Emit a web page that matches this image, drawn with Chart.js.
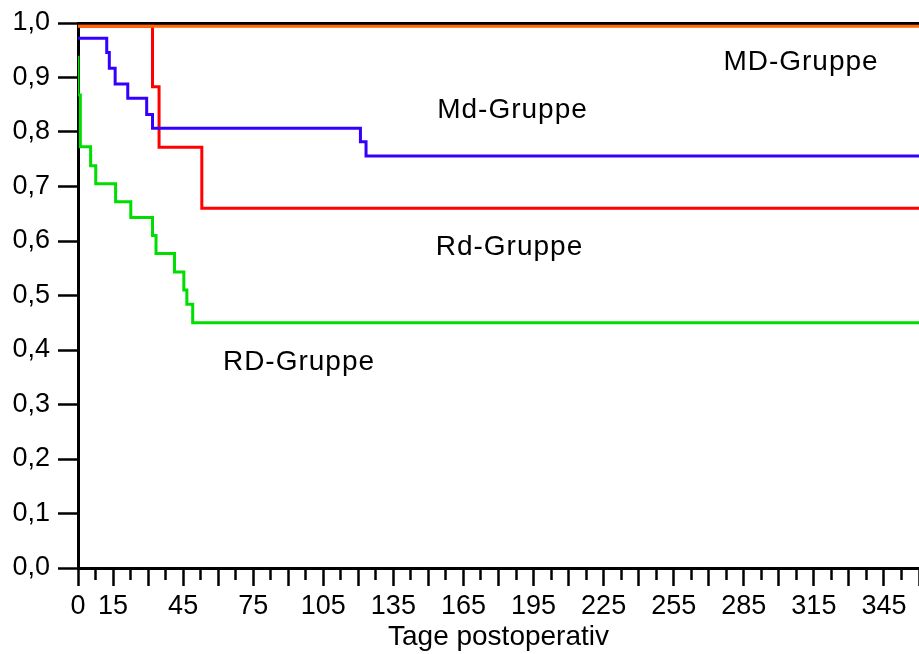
<!DOCTYPE html>
<html>
<head>
<meta charset="utf-8">
<script src="https://cdn.jsdelivr.net/npm/chart.js@4/dist/chart.umd.min.js"></script>
<style>
  html, body { margin: 0; padding: 0; background: #fff; }
  #wrap { width: 919px; height: 654px; position: relative; }
</style>
</head>
<body>
<div id="wrap"><canvas id="km"></canvas></div>
<script>
// Kaplan-Meier step curves: days after surgery and survival fraction per group
const mdDays   = [0, 360];
const mdSurv   = [0.994, 0.994];

const mdSmallDays = [0, 12.3, 13.4, 15.9, 21.3, 29.4, 31.9, 120.9, 123.3, 360];
const mdSmallSurv = [0.972, 0.946, 0.917, 0.888, 0.862, 0.832, 0.807, 0.782, 0.756, 0.756];

const rdSmallDays = [0, 31.9, 34.7, 53.0, 360];
const rdSmallSurv = [0.994, 0.883, 0.772, 0.660, 0.660];

const rdDays   = [0, 0, 1.0, 5.4, 7.6, 16.1, 22.6, 31.9, 33.4, 41.3, 45.3, 46.6, 49.1, 360];
const rdSurv   = [0.94, 0.868, 0.773, 0.738, 0.705, 0.672, 0.643, 0.610, 0.577, 0.543, 0.510, 0.484, 0.450, 0.450];

// Group names and where they sit (day, survival)
const groupNames = ['MD-Gruppe', 'Md-Gruppe', 'Rd-Gruppe', 'RD-Gruppe'];
const groupLabelDays = [309.5, 186, 184.7, 94.6];
const groupLabelSurv = [0.928, 0.840, 0.589, 0.378];

const xMax = 360;
const xStep = 7.5;
const yTickStep = 0.1;
const xAxisTitle = 'Tage postoperativ';

const FONT = "'Liberation Sans', Arial, sans-serif";

function pts(xs, ys) { return xs.map((x, i) => ({ x: x, y: ys[i] })); }

function isLabelled(v) { return v === 0 || (v % 30 === 15); }

const groupLabelPlugin = {
  id: 'groupLabels',
  afterDatasetsDraw(chart) {
    const { ctx, scales } = chart;
    ctx.save();
    ctx.font = '28px ' + FONT;
    ctx.letterSpacing = '1px';
    ctx.fillStyle = '#000';
    ctx.textAlign = 'center';
    ctx.textBaseline = 'middle';
    groupNames.forEach((name, i) => {
      const px = scales.x.getPixelForValue(groupLabelDays[i]);
      const py = scales.y.getPixelForValue(groupLabelSurv[i]);
      ctx.fillText(name, px, py);
    });
    ctx.restore();
  }
};

const line = (data, color) => ({
  data: data,
  borderColor: color,
  borderWidth: 3,
  pointRadius: 0,
  stepped: true,
  fill: false,
  tension: 0
});

new Chart(document.getElementById('km'), {
  type: 'line',
  data: {
    datasets: [
      line(pts(mdDays, mdSurv), '#ff6a00'),
      line(pts(mdSmallDays, mdSmallSurv), '#3300ff'),
      line(pts(rdSmallDays, rdSmallSurv), '#ff0000'),
      line(pts(rdDays, rdSurv), '#00dd00')
    ]
  },
  options: {
    responsive: true,
    maintainAspectRatio: false,
    animation: false,
    layout: { padding: 0 },
    plugins: { legend: { display: false }, tooltip: { enabled: false } },
    scales: {
      x: {
        type: 'linear',
        position: 'bottom',
        min: 0,
        max: xMax,
        afterBuildTicks(scale) {
          const t = [];
          for (let v = 0; v <= xMax + 1e-9; v += xStep) t.push({ value: v });
          scale.ticks = t;
        },
        afterFit(scale) { scale.height = 86; scale.paddingRight = 0; },
        border: { display: true, color: '#000', width: 3 },
        grid: {
          drawOnChartArea: false,
          drawTicks: true,
          tickLength: 18,
          tickColor: '#000',
          tickWidth: 2.5,
          tickBorderDash: (c) => (c.tick && (c.tick.value % 15 !== 0)) ? [10, 40] : []
        },
        ticks: {
          autoSkip: false,
          maxRotation: 0,
          padding: 4,
          color: '#000',
          font: { family: FONT, size: 27 },
          callback: (v) => isLabelled(v) ? String(v) : ''
        },
        title: {
          display: true,
          text: xAxisTitle,
          color: '#000',
          font: { family: FONT, size: 28 },
          padding: { top: 0, bottom: 0 }
        }
      },
      xTop: {
        type: 'linear',
        position: 'top',
        min: 0,
        max: xMax,
        afterFit(scale) { scale.height = 23; scale.paddingRight = 0; },
        border: { display: true, color: '#000', width: 3 },
        grid: { display: false, drawTicks: false },
        ticks: { display: false }
      },
      y: {
        type: 'linear',
        position: 'left',
        min: 0,
        max: 1,
        afterFit(scale) { scale.width = 78; scale.paddingTop = 0; },
        border: { display: true, color: '#000', width: 3 },
        grid: {
          drawOnChartArea: false,
          drawTicks: true,
          tickLength: 20,
          tickColor: '#000',
          tickWidth: 2.5
        },
        ticks: {
          stepSize: yTickStep,
          padding: 8,
          color: '#000',
          font: { family: FONT, size: 27 },
          callback: (v) => v.toFixed(1).replace('.', ',')
        }
      }
    }
  },
  plugins: [groupLabelPlugin]
});
</script>
</body>
</html>
